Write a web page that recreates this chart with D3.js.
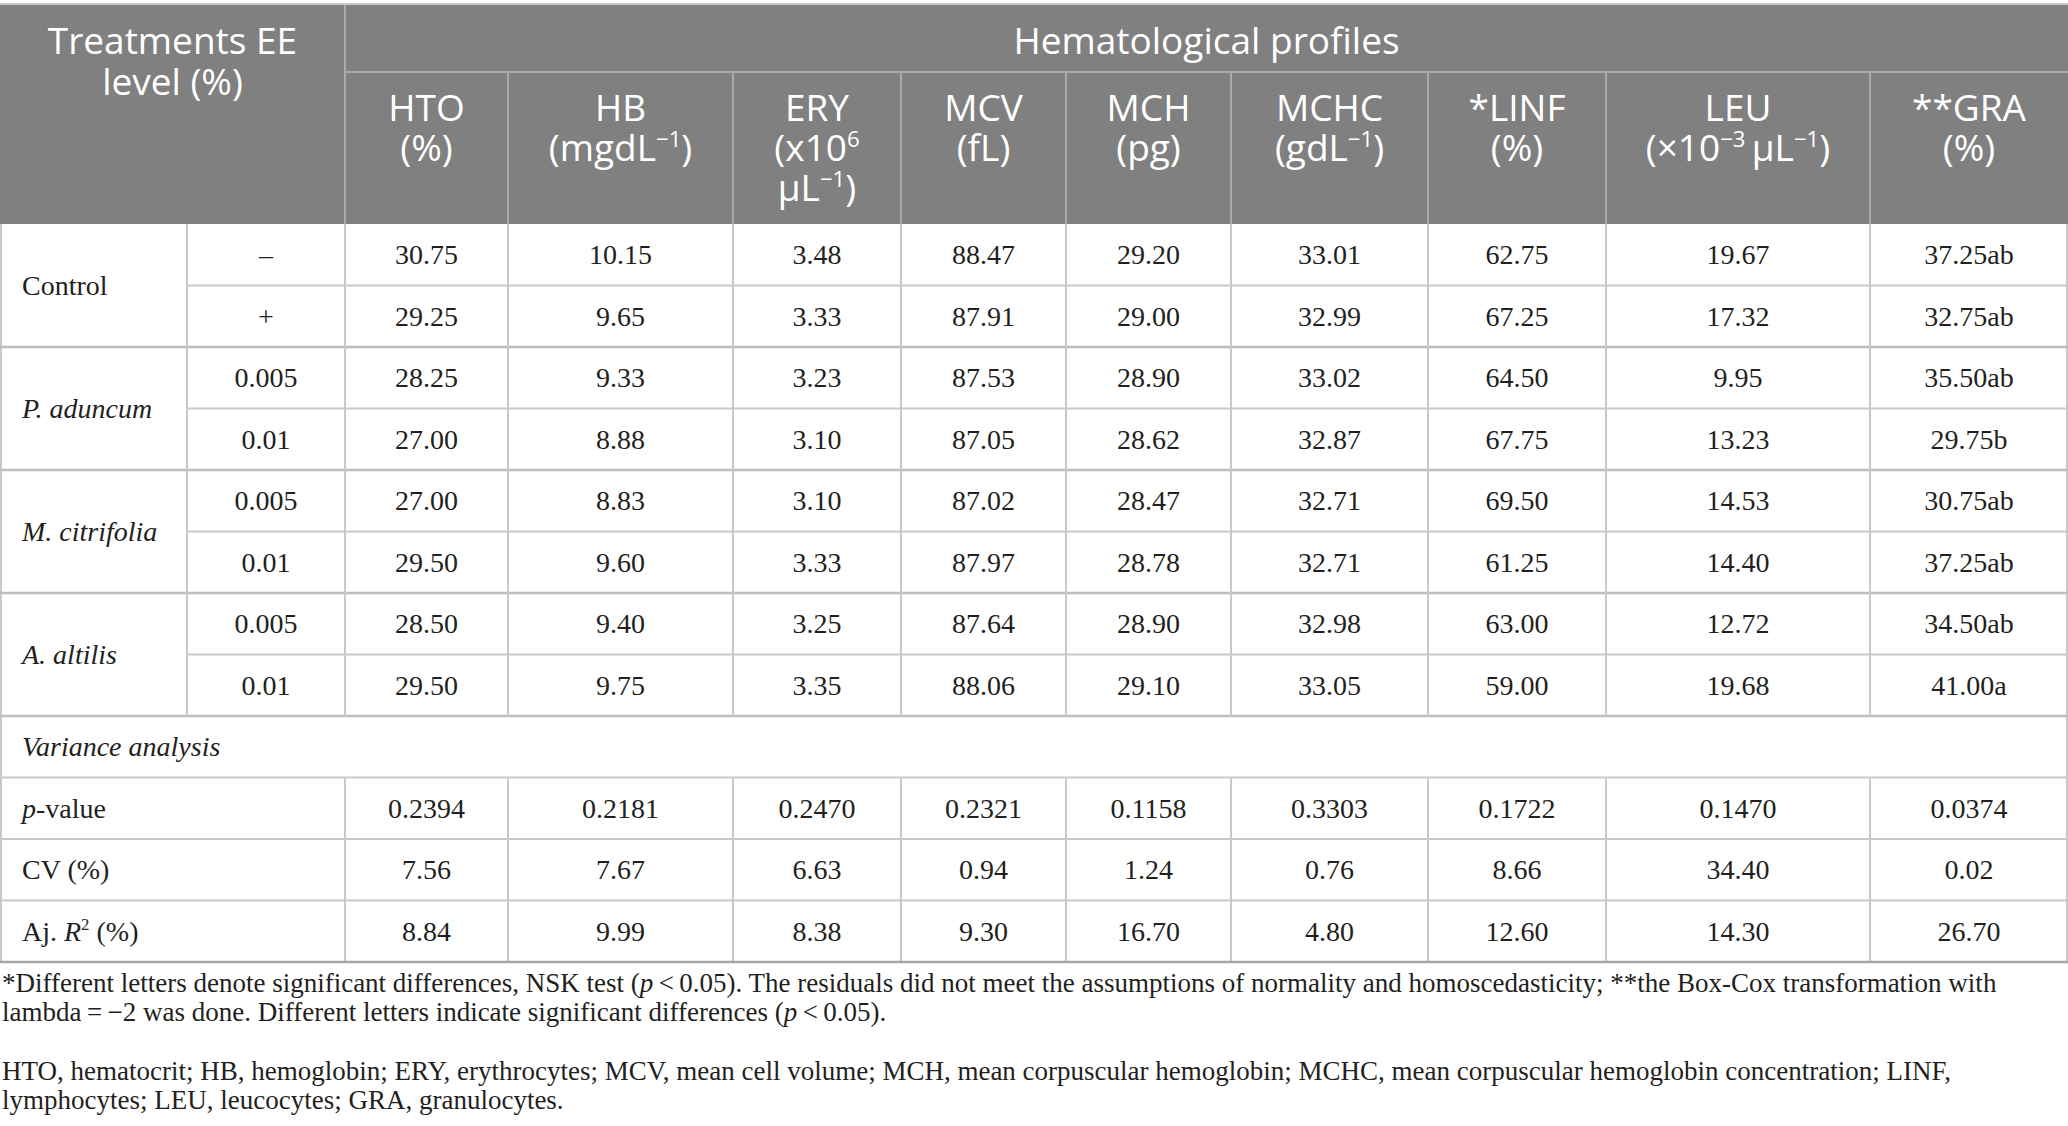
<!DOCTYPE html>
<html>
<head>
<meta charset="UTF-8">
<script src="https://cdnjs.cloudflare.com/ajax/libs/d3/7.8.5/d3.min.js"></script>
<style>
  body { margin: 0; background: #fff; }
  svg { display: block; }
  .hd { font-family: "Open Sans", "Noto Sans", sans-serif; fill: #fff; }
  .bd { font-family: "Liberation Serif", "DejaVu Serif", serif; fill: #231f20; }
</style>
</head>
<body>
<svg id="chart" width="2068" height="1126"></svg>
<script>
// ---- data ----
var columns = ["HTO", "HB", "ERY", "MCV", "MCH", "MCHC", "LINF", "LEU", "GRA"];
var groups = ["Control", "P. aduncum", "M. citrifolia", "A. altilis"];
var levels = ["\u2013", "+", "0.005", "0.01", "0.005", "0.01", "0.005", "0.01"];

var hto  = [30.75, 29.25, 28.25, 27.00, 27.00, 29.50, 28.50, 29.50];
var hb   = [10.15, 9.65, 9.33, 8.88, 8.83, 9.60, 9.40, 9.75];
var ery  = [3.48, 3.33, 3.23, 3.10, 3.10, 3.33, 3.25, 3.35];
var mcv  = [88.47, 87.91, 87.53, 87.05, 87.02, 87.97, 87.64, 88.06];
var mch  = [29.20, 29.00, 28.90, 28.62, 28.47, 28.78, 28.90, 29.10];
var mchc = [33.01, 32.99, 33.02, 32.87, 32.71, 32.71, 32.98, 33.05];
var linf = [62.75, 67.25, 64.50, 67.75, 69.50, 61.25, 63.00, 59.00];
var leu  = [19.67, 17.32, 9.95, 13.23, 14.53, 14.40, 12.72, 19.68];
var gra  = [37.25, 32.75, 35.50, 29.75, 30.75, 37.25, 34.50, 41.00];
var graLetters = ["ab", "ab", "ab", "b", "ab", "ab", "ab", "a"];

var pValue = [0.2394, 0.2181, 0.2470, 0.2321, 0.1158, 0.3303, 0.1722, 0.1470, 0.0374];
var cv     = [7.56, 7.67, 6.63, 0.94, 1.24, 0.76, 8.66, 34.40, 0.02];
var ajR2   = [8.84, 9.99, 8.38, 9.30, 16.70, 4.80, 12.60, 14.30, 26.70];

var series = [hto, hb, ery, mcv, mch, mchc, linf, leu, gra];

// header labels: each line is a list of [text, flag]; flag 1 = superscript
var headLines = [
  [[["HTO"]], [["(%)"]]],
  [[["HB"]], [["(mgdL"], ["\u22121", 1], [")"]]],
  [[["ERY"]], [["(x10"], ["6", 1]], [["\u03bcL"], ["\u22121", 1], [")"]]],
  [[["MCV"]], [["(fL)"]]],
  [[["MCH"]], [["(pg)"]]],
  [[["MCHC"]], [["(gdL"], ["\u22121", 1], [")"]]],
  [[["*LINF"]], [["(%)"]]],
  [[["LEU"]], [["(\u00d710"], ["\u22123", 1], ["\u2009\u03bcL"], ["\u22121", 1], [")"]]],
  [[["**GRA"]], [["(%)"]]]
];

var footnotes = [
  [["*Different letters denote significant differences, NSK test ("], ["p", "i"], ["\u2009<\u20090.05). The residuals did not meet the assumptions of normality and homoscedasticity; **the Box-Cox transformation with"]],
  [["lambda\u2009=\u2009\u22122 was done. Different letters indicate significant differences ("], ["p", "i"], ["\u2009<\u20090.05)."]],
  [["HTO, hematocrit; HB, hemoglobin; ERY, erythrocytes; MCV, mean cell volume; MCH, mean corpuscular hemoglobin; MCHC, mean corpuscular hemoglobin concentration; LINF,"]],
  [["lymphocytes; LEU, leucocytes; GRA, granulocytes."]]
];
var noteY = [992, 1021, 1080, 1109];

// ---- layout ----
var W = 2068;
var colEdges = [0, 187, 345, 508, 733, 901, 1066, 1231, 1428, 1606, 1870, 2068];
var headTop = 4, headMid = 72, headBot = 224, tableBot = 962;
var bodyFont = 28, headFont = 37, noteFont = 27;

var svg = d3.select("#chart");

var colKeys = ["group", "level"].concat(columns);
var xLeft = d3.scaleOrdinal().domain(colKeys).range(colEdges.slice(0, -1));
var xRight = d3.scaleOrdinal().domain(colKeys).range(colEdges.slice(1));
function xMid(k) { return (xLeft(k) + xRight(k)) / 2; }

var y = d3.scaleBand().domain(d3.range(12)).range([headBot, tableBot]);
function yMid(r) { return y(r) + y.bandwidth() / 2; }

function line(x1, y1, x2, y2, color, w) {
  svg.append("line")
    .attr("x1", x1).attr("y1", y1).attr("x2", x2).attr("y2", y2)
    .attr("stroke", color).attr("stroke-width", w);
}

// rich text helper, superscripts shift up and the next part shifts back
function rich(sel, parts, size) {
  var shift = 0;
  parts.forEach(function(p) {
    var t = sel.append("tspan").text(p[0]);
    if (p[1] === 1) {
      t.attr("font-size", size * 0.6).attr("dy", -size * 0.38);
      shift = size * 0.38;
    } else {
      if (shift) { t.attr("dy", shift); shift = 0; }
      if (p[1] === "i") t.attr("font-style", "italic");
    }
  });
}

// ---- header ----
svg.append("rect").attr("x", 0).attr("y", headTop)
  .attr("width", W).attr("height", headBot - headTop).attr("fill", "#7f807f");

var hLine = "#a9a9a9";
line(colEdges[2], headMid, W, headMid, hLine, 2);
line(colEdges[2], headTop, colEdges[2], headBot, hLine, 2);
colEdges.slice(3, -1).forEach(function(x) { line(x, headMid, x, headBot, hLine, 2); });

var tLab = svg.append("text").attr("class", "hd").attr("font-size", headFont)
  .attr("text-anchor", "middle");
tLab.append("tspan").attr("x", colEdges[2] / 2).attr("y", 54).text("Treatments EE");
tLab.append("tspan").attr("x", colEdges[2] / 2).attr("y", 95).text("level (%)");

svg.append("text").attr("class", "hd").attr("font-size", headFont)
  .attr("text-anchor", "middle")
  .attr("x", (colEdges[2] + W) / 2).attr("y", 54)
  .text("Hematological profiles");

columns.forEach(function(c, i) {
  var t = svg.append("text").attr("class", "hd").attr("font-size", headFont)
    .attr("text-anchor", "middle");
  headLines[i].forEach(function(parts, j) {
    var ln = t.append("tspan").attr("x", xMid(c)).attr("y", 121 + j * 40);
    rich(ln, parts, headFont);
  });
});

// ---- body lines ----
var bLine = "#c9c9c9", gLine = "#bdbdbd";
line(0, headTop, W, headTop, "#c9c9c9", 2);
line(1, headBot, 1, tableBot, bLine, 2);
line(W - 1, headBot, W - 1, tableBot, bLine, 2);

d3.range(8).forEach(function(r) {
  var yb = y(r) + y.bandwidth();
  if (r % 2 === 0) line(colEdges[1], yb, W, yb, bLine, 2);
  else line(0, yb, W, yb, gLine, 2.5);
  colEdges.slice(1, -1).forEach(function(x) { line(x, y(r), x, yb, bLine, 2); });
});
[8, 9, 10].forEach(function(r) {
  line(0, y(r) + y.bandwidth(), W, y(r) + y.bandwidth(), bLine, 2);
});
[9, 10, 11].forEach(function(r) {
  colEdges.slice(2, -1).forEach(function(x) { line(x, y(r), x, y(r) + y.bandwidth(), bLine, 2); });
});
line(0, tableBot, W, tableBot, "#a8a8a8", 2.5);

// ---- body text ----
var base = bodyFont * 0.34;
function cell(x, r, txt, anchor, style) {
  var t = svg.append("text").attr("class", "bd").attr("font-size", bodyFont)
    .attr("text-anchor", anchor || "middle")
    .attr("font-style", style || "normal")
    .attr("x", x).attr("y", yMid(r) + base);
  if (txt) t.text(txt);
  return t;
}

groups.forEach(function(g, i) {
  svg.append("text").attr("class", "bd").attr("font-size", bodyFont)
    .attr("font-style", i === 0 ? "normal" : "italic")
    .attr("x", 22).attr("y", y(i * 2) + y.bandwidth() + base)
    .text(g);
});

levels.forEach(function(l, r) { cell(xMid("level"), r, l); });

var f2 = d3.format(".2f"), f4 = d3.format(".4f");
series.forEach(function(vals, c) {
  vals.forEach(function(v, r) {
    var s = f2(v) + (columns[c] === "GRA" ? graLetters[r] : "");
    cell(xMid(columns[c]), r, s);
  });
  cell(xMid(columns[c]), 9, f4(pValue[c]));
  cell(xMid(columns[c]), 10, f2(cv[c]));
  cell(xMid(columns[c]), 11, f2(ajR2[c]));
});

cell(22, 8, "Variance analysis", "start", "italic");
rich(cell(22, 9, null, "start"), [["p", "i"], ["-value"]], bodyFont);
cell(22, 10, "CV (%)", "start");
rich(cell(22, 11, null, "start"), [["Aj. "], ["R", "i"], ["2", 1], [" (%)"]], bodyFont);

// ---- footnotes ----
footnotes.forEach(function(parts, i) {
  var t = svg.append("text").attr("class", "bd").attr("font-size", noteFont)
    .attr("x", 2).attr("y", noteY[i]);
  rich(t, parts, noteFont);
});
</script>
</body>
</html>
